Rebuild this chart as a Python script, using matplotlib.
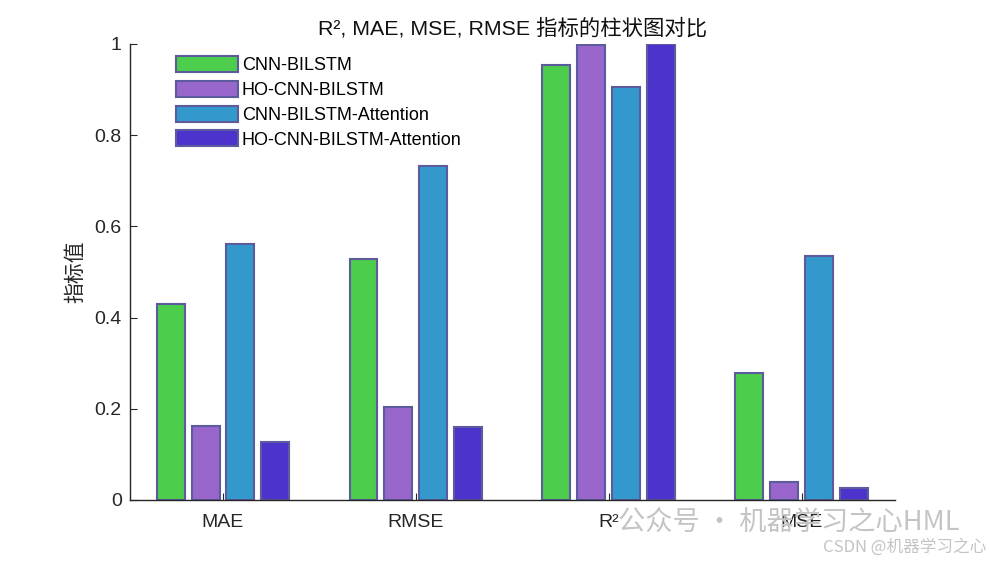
import matplotlib
matplotlib.use("Agg")
import matplotlib.pyplot as plt
import numpy as np

plt.rcParams['font.family'] = ['Liberation Sans', 'Noto Sans CJK SC', 'DejaVu Sans']

metrics = ['MAE', 'RMSE', 'R²', 'MSE']
models = ['CNN-BILSTM', 'HO-CNN-BILSTM', 'CNN-BILSTM-Attention', 'HO-CNN-BILSTM-Attention']
cnn_bilstm = [0.430, 0.528, 0.954, 0.278]
ho_cnn_bilstm = [0.162, 0.204, 0.998, 0.040]
cnn_bilstm_att = [0.561, 0.732, 0.906, 0.535]
ho_cnn_bilstm_att = [0.127, 0.160, 0.999, 0.026]
series = [cnn_bilstm, ho_cnn_bilstm, cnn_bilstm_att, ho_cnn_bilstm_att]
colors = ['#4CCD4C', '#9966CC', '#3399CC', '#4C33CC']
edge = '#5B5B9E'

fig = plt.figure(figsize=(9.9, 5.63), dpi=100)
ax = fig.add_axes([130/990, 63/563, 765/990, 456/563])

x = np.arange(1, len(metrics) + 1)
step = 0.181
width = 0.145
for i, (vals, c, lab) in enumerate(zip(series, colors, models)):
    ax.bar(x + (i - 1.5) * step, vals, width, color=c, edgecolor=edge, linewidth=1.5, label=lab)

ax.set_xlim(0.518, 4.484)
ax.set_ylim(0, 1)
ax.set_xticks(x)
ax.set_xticklabels(metrics)
ax.set_yticks([0, 0.2, 0.4, 0.6, 0.8, 1.0])
ax.set_yticklabels(['0', '0.2', '0.4', '0.6', '0.8', '1'])
ax.tick_params(direction='in', length=5, labelsize=14, colors='#262626', width=0.8)
ax.tick_params(axis='x', pad=10)
ax.tick_params(axis='y', pad=6)
for s in ['top', 'right']:
    ax.spines[s].set_visible(False)
for s in ['left', 'bottom']:
    ax.spines[s].set_color('#262626')
    ax.spines[s].set_linewidth(1.0)

ax.set_ylabel('指标值', fontsize=15, family=['Noto Sans CJK SC', 'DejaVu Sans'], labelpad=6,
              color='#262626')
ax.set_title('R², MAE, MSE, RMSE 指标的柱状图对比', fontsize=15.4,
             family=['Liberation Sans', 'Noto Sans CJK SC'], pad=7, color='#111111')

leg = ax.legend(loc='upper left', bbox_to_anchor=(176/990, 1 - 56/563),
                bbox_transform=fig.transFigure, frameon=False, fontsize=13,
                handlelength=3.45, handleheight=1.0, labelspacing=0.36,
                handletextpad=0.2, borderpad=0, borderaxespad=0)

# watermark
fig.text(618/990, 1 - 522/563, '公众号 · 机器学习之心HML', fontsize=19.6, color='#c4c4c4',
         family=['Noto Sans CJK SC'], va='center', ha='left', zorder=0)
fig.text(986/990, 1 - 547/563, 'CSDN @机器学习之心', fontsize=12, color='#c4c4c4',
         family=['Noto Sans CJK SC'], va='center', ha='right', zorder=0)

fig.savefig('out.png', dpi=100)
